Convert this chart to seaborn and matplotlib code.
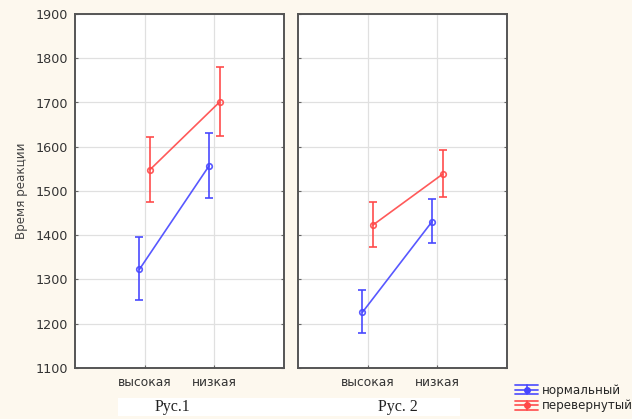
import numpy as np
import pandas as pd
import matplotlib
matplotlib.use("Agg")
import matplotlib.pyplot as plt
from matplotlib.patches import Rectangle
from matplotlib.lines import Line2D
from matplotlib.legend_handler import HandlerBase
import seaborn as sns

levels = ["высокая", "низкая"]
groups = ["нормальный", "перевернутый"]

# Panel 1 (Рус.1)
p1_norm_mean = [1323, 1557]
p1_norm_lo = [1253, 1485]
p1_norm_hi = [1395, 1630]
p1_inv_mean = [1548, 1701]
p1_inv_lo = [1476, 1624]
p1_inv_hi = [1622, 1780]

# Panel 2 (Рус. 2)
p2_norm_mean = [1226, 1431]
p2_norm_lo = [1180, 1382]
p2_norm_hi = [1276, 1481]
p2_inv_mean = [1423, 1538]
p2_inv_lo = [1373, 1487]
p2_inv_hi = [1475, 1593]

captions = ["Рус.1", "Рус. 2"]
y_label = "Время реакции"
y_ticks = [1100, 1200, 1300, 1400, 1500, 1600, 1700, 1800, 1900]

BG = "#fdf8ee"
BLUE = "#4646ff"
RED = "#ff4848"
palette = {groups[0]: BLUE, groups[1]: RED}


class HandlerBars(HandlerBase):
    def create_artists(self, legend, orig_handle, xdescent, ydescent,
                       width, height, fontsize, trans):
        c = orig_handle.get_color()
        arts = []
        yc = height / 2 - ydescent
        for dy in (-height * 0.45, 0, height * 0.45):
            ln = Line2D([-xdescent, width - xdescent], [yc + dy, yc + dy],
                        color=c, lw=1.3, alpha=0.9, transform=trans)
            arts.append(ln)
        vl = Line2D([width / 2 - xdescent] * 2, [yc - height * 0.45, yc + height * 0.45],
                    color=c, lw=1.3, alpha=0.9, transform=trans)
        mk = Line2D([width / 2 - xdescent], [yc], marker="o", markersize=4,
                    color=c, transform=trans)
        arts += [vl, mk]
        return arts


sns.set_theme(style="white")
plt.rcParams["font.family"] = ["DejaVu Sans"]

fig = plt.figure(figsize=(6.32, 4.19), dpi=100, facecolor=BG)
W, H = 632, 419
ax1 = fig.add_axes([75 / W, 1 - 368 / H, 209 / W, 354 / H])
ax2 = fig.add_axes([298 / W, 1 - 368 / H, 209 / W, 354 / H])

panels = [
    (ax1, p1_norm_mean, p1_norm_lo, p1_norm_hi, p1_inv_mean, p1_inv_lo, p1_inv_hi),
    (ax2, p2_norm_mean, p2_norm_lo, p2_norm_hi, p2_inv_mean, p2_inv_lo, p2_inv_hi),
]

dodge = 0.15
for i, (ax, nm, nl, nh, im, il, ih) in enumerate(panels):
    df = pd.DataFrame({
        "level": levels * 2,
        "group": [groups[0]] * 2 + [groups[1]] * 2,
        "mean": nm + im,
        "lo": nl + il,
        "hi": nh + ih,
    })
    sns.pointplot(data=df, x="level", y="mean", hue="group", order=levels,
                  hue_order=groups, palette=palette, dodge=dodge, errorbar=None,
                  markers="o", markersize=4, linewidth=1.2, ax=ax, legend=False)
    for ln in ax.lines:
        ln.set_markerfacecolor("none")
        ln.set_markeredgewidth(1.2)
        ln.set_alpha(0.9)
    for j, g in enumerate(groups):
        sub = df[df["group"] == g]
        xs = np.arange(len(levels)) + (j - 0.5) * dodge
        m = sub["mean"].to_numpy()
        yerr = [m - sub["lo"].to_numpy(), sub["hi"].to_numpy() - m]
        ax.errorbar(xs, m, yerr=yerr, fmt="none", ecolor=palette[g],
                    elinewidth=1.3, capsize=3, capthick=1.3, alpha=0.9)

    ax.set_xlim(-1, 2)
    ax.set_ylim(1100, 1900)
    ax.set_yticks(y_ticks)
    ax.set_facecolor("white")
    ax.grid(True, color="#e0e0e0", linewidth=0.9)
    ax.set_axisbelow(True)
    ax.set_xlabel("")
    ax.set_ylabel("")
    for s in ax.spines.values():
        s.set_color("#555555")
        s.set_linewidth(1.4)
    ax.tick_params(axis="y", direction="in", length=2.5, width=0.8, left=True, right=True,
                   color="#666666", labelsize=9.2, labelcolor="#333333", pad=5)
    ax.tick_params(axis="x", direction="in", length=2.5, width=0.8, bottom=True,
                   color="#666666", labelsize=8.8, labelcolor="#333333", pad=6)
    if i == 1:
        ax.tick_params(axis="y", labelleft=False)
    else:
        ax.set_ylabel(y_label, fontsize=8.6, color="#444444")
        ax.yaxis.set_label_coords(-(75 - 28) / 209, 0.5)

# white caption strip
fig.patches.append(Rectangle((118 / W, 1 - 416 / H), (460 - 118) / W, 18 / H,
                             transform=fig.transFigure, facecolor="white",
                             edgecolor="none", zorder=0))
fig.text(172 / W, 1 - 407 / H, captions[0], ha="center", va="center",
         fontsize=11.5, family="Liberation Serif", color="#222222")
fig.text(398 / W, 1 - 407 / H, captions[1], ha="center", va="center",
         fontsize=11.5, family="Liberation Serif", color="#222222")

leg_handles = [Line2D([], [], color=palette[g]) for g in groups]
fig.legend(leg_handles, groups, loc="lower right",
           bbox_to_anchor=(1.0 + 9 / W, -1 / H),
           frameon=False, fontsize=8.6, handlelength=1.9, handleheight=0.9,
           handletextpad=0.35, labelspacing=0.2, borderaxespad=0.25,
           handler_map={Line2D: HandlerBars()})

fig.savefig("out.png", dpi=100, facecolor=BG)
